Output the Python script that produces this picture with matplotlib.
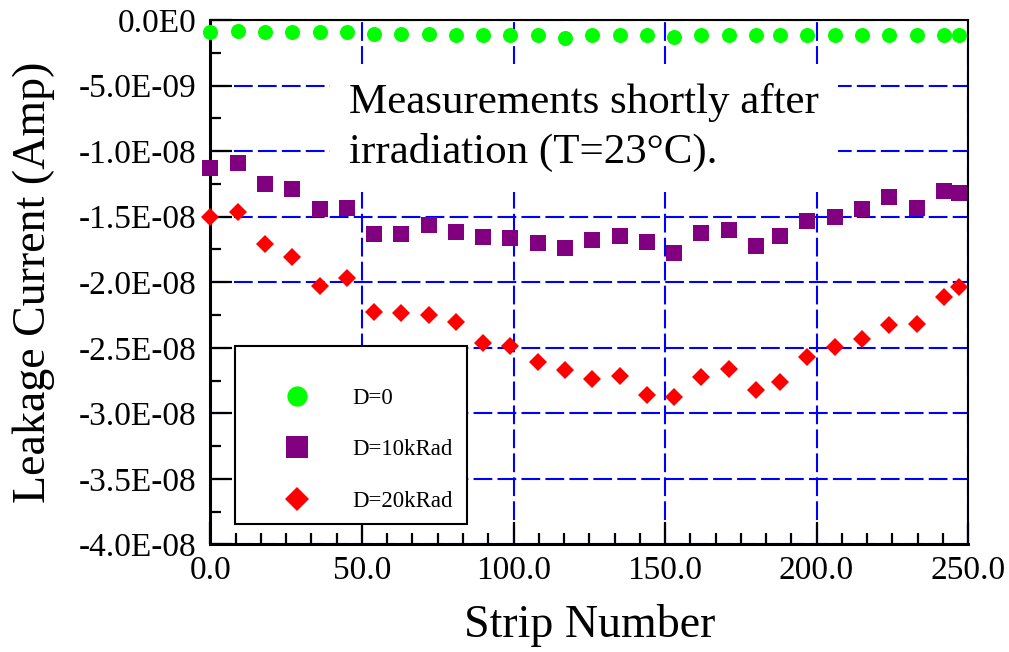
import matplotlib
matplotlib.use("Agg")
import matplotlib.pyplot as plt
from matplotlib.patches import Rectangle
from matplotlib.ticker import MultipleLocator, FixedLocator

plt.rcParams['font.family'] = ['Liberation Serif', 'DejaVu Serif']

# strip positions (same for all three series)
strips = [0, 9, 18, 27, 36, 45, 54, 63, 72, 81, 90, 99, 108, 117, 126, 135, 144,
          153, 162, 171, 180, 188, 197, 206, 215, 224, 233, 242, 247]

# leakage current in units of 1E-08 A
d0 = [-0.089, -0.084, -0.094, -0.094, -0.094, -0.094, -0.109, -0.109, -0.109, -0.114,
      -0.114, -0.114, -0.114, -0.135, -0.114, -0.114, -0.114, -0.127, -0.114, -0.114,
      -0.114, -0.114, -0.114, -0.114, -0.114, -0.114, -0.114, -0.114, -0.114]
d10 = [-1.131, -1.088, -1.251, -1.291, -1.442, -1.436, -1.632, -1.632, -1.564, -1.619,
       -1.653, -1.665, -1.703, -1.741, -1.678, -1.648, -1.691, -1.775, -1.627, -1.602,
       -1.724, -1.645, -1.533, -1.505, -1.444, -1.348, -1.436, -1.304, -1.317]
d20 = [-1.500, -1.467, -1.711, -1.806, -2.029, -1.970, -2.230, -2.237, -2.250, -2.301,
       -2.462, -2.487, -2.606, -2.670, -2.739, -2.716, -2.861, -2.873, -2.721, -2.664,
       -2.822, -2.759, -2.568, -2.492, -2.436, -2.326, -2.321, -2.111, -2.039]

series_labels = ['D=0', 'D=10kRad', 'D=20kRad']

xticks = [0, 50, 100, 150, 200, 250]
xtick_labels = ['0.0', '50.0', '100.0', '150.0', '200.0', '250.0']
yticks = [0, -0.5e-8, -1.0e-8, -1.5e-8, -2.0e-8, -2.5e-8, -3.0e-8, -3.5e-8, -4.0e-8]
ytick_labels = ['0.0E0', '-5.0E-09', '-1.0E-08', '-1.5E-08', '-2.0E-08', '-2.5E-08',
                '-3.0E-08', '-3.5E-08', '-4.0E-08']

scale = 1e-8
fig = plt.figure(figsize=(10.09, 6.52), dpi=100)
ax = fig.add_axes([0.2086, 0.1649, 0.7508, 0.8044])

ax.plot(strips, [v * scale for v in d0], 'o', color='#00ff00', ms=10.8, mew=0,
        label=series_labels[0], clip_on=False, zorder=4)
ax.plot(strips, [v * scale for v in d10], 's', color='#800080', ms=11.5, mew=0,
        label=series_labels[1], clip_on=False, zorder=4)
ax.plot(strips, [v * scale for v in d20], 'D', color='#ff0000', ms=9, mew=0,
        label=series_labels[2], clip_on=False, zorder=4)

ax.set_xlim(0, 250)
ax.set_ylim(-4e-8, 0)

ax.xaxis.set_major_locator(FixedLocator(xticks))
ax.set_xticklabels(xtick_labels)
ax.xaxis.set_minor_locator(MultipleLocator(50 / 6))
ax.yaxis.set_major_locator(FixedLocator(yticks))
ax.set_yticklabels(ytick_labels)
ax.yaxis.set_minor_locator(MultipleLocator(2.5e-9))

ax.tick_params(which='both', direction='in', top=False, right=False, width=1.6)
ax.tick_params(which='major', length=16)
ax.tick_params(which='minor', length=8)
ax.tick_params(axis='x', labelsize=24, pad=8)
ax.tick_params(axis='y', labelsize=24, pad=10)

for side in ['left', 'bottom']:
    ax.spines[side].set_linewidth(2.2)
for side in ['top', 'right']:
    ax.spines[side].set_linewidth(1.5)

ax.set_axisbelow(True)
ax.grid(True, which='major', color='#0000ff', linestyle=(0, (9, 2.5)), linewidth=1.5)

ax.set_xlabel('Strip Number', fontsize=33, labelpad=13)
ax.set_ylabel('Leakage Current (Amp)', fontsize=33, labelpad=17)

ax.text(45.7, -0.48e-8, 'Measurements shortly after\nirradiation (T=23°C).',
        fontsize=31, va='top', ha='left', linespacing=1.38, zorder=3,
        bbox=dict(boxstyle='square,pad=0.45', facecolor='white', edgecolor='none'))

# legend frame drawn separately (content sits off-centre in the original box)
frame = Rectangle((0.0323, 0.039), 0.306, 0.339, transform=ax.transAxes,
                  facecolor='white', edgecolor='black', linewidth=1.5, zorder=5)
ax.add_patch(frame)
leg = ax.legend(loc='center left', bbox_to_anchor=(0.084, 0.1805), borderaxespad=0,
                borderpad=0, fontsize=16.5, markerscale=1.35, handlelength=2.0,
                handletextpad=1.4, labelspacing=1.32, frameon=False)
leg.set_zorder(6)

fig.savefig('out.png', dpi=100)
